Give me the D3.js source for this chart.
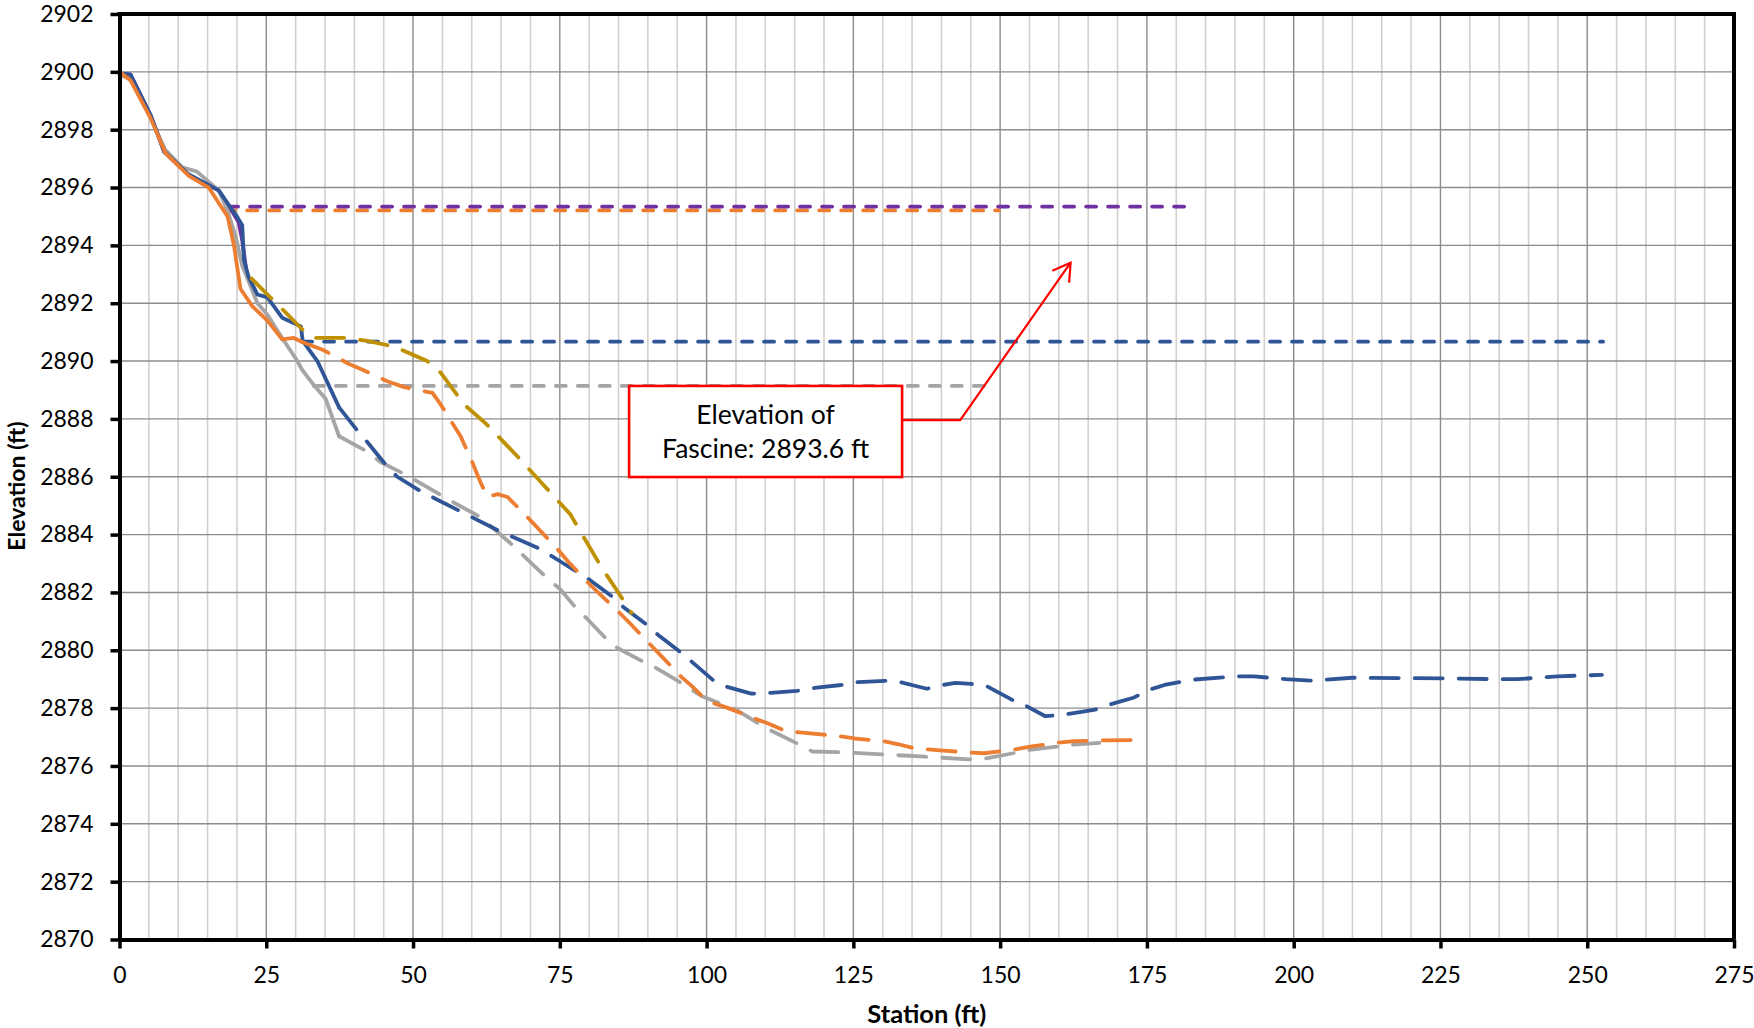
<!DOCTYPE html>
<html><head><meta charset="utf-8">
<script src="https://cdn.jsdelivr.net/npm/d3@7"></script>
<style>html,body{margin:0;padding:0;background:#fff;} svg{display:block;}</style>
</head><body><svg id="chart" width="1754" height="1028"></svg>
<script>
// ---------------- data ----------------
const xTickValues = [0,25,50,75,100,125,150,175,200,225,250,275];
const yTickValues = [2870,2872,2874,2876,2878,2880,2882,2884,2886,2888,2890,2892,2894,2896,2898,2900,2902];
const xTitle = "Station (ft)";
const yTitle = "Elevation (ft)";
const annotationLines = ["Elevation of", "Fascine: 2893.6 ft"];

// existing ground profiles (solid)
const purpleSolid = [[0,2899.95],[1.9,2899.9],[5.3,2898.5],[7.6,2897.23],[11.8,2896.43],[16.9,2895.9],[18.6,2895.37],[20.3,2894.8],[20.9,2894.18],[21.5,2893.26]];
const graySolid = [[0,2899.9],[1.9,2899.75],[5.3,2898.4],[7.8,2897.3],[10.7,2896.7],[13.2,2896.55],[16.9,2895.9],[18.4,2895.2],[19.8,2894.3],[20.9,2893.3],[23.5,2892.0],[25.2,2891.6],[27.7,2890.8],[30.3,2890.0],[31.1,2889.7],[33.1,2889.17],[35.1,2888.7],[37.4,2887.4]];
const blueSolid = [[0,2899.95],[1.9,2899.9],[5.3,2898.5],[7.6,2897.25],[11.8,2896.45],[16.9,2895.9],[18.6,2895.4],[20.0,2895.0],[20.9,2894.7],[21.2,2893.5],[22.0,2892.9],[23.5,2892.3],[25.2,2892.2],[27.7,2891.5],[30.9,2891.2],[31.2,2890.7],[33.7,2890.0],[37.4,2888.4]];
const orangeSolid = [[0,2900],[1.9,2899.7],[5.3,2898.4],[7.8,2897.2],[11.8,2896.4],[15.2,2896.0],[18.4,2895.0],[19.5,2894.0],[20.6,2892.5],[22.6,2891.9],[25.2,2891.4],[27.7,2890.75],[29.7,2890.8],[31.2,2890.65]];

// profiles (long dash)
const grayDashed = [[37.4,2887.4],[41.9,2886.9],[44.5,2886.5],[48.5,2886.1],[57.0,2885.1],[61.5,2884.6],[66.6,2883.7],[72.3,2882.6],[75.1,2882.1],[77.3,2881.57],[79.6,2881.1],[82.6,2880.46],[84.8,2880.08],[88.7,2879.66],[91.3,2879.4],[95.2,2878.93],[99.2,2878.41],[101.8,2878.2],[105.0,2877.95],[108.6,2877.5],[111.2,2877.2],[115.4,2876.78],[118.0,2876.5],[122.6,2876.48],[130.1,2876.4],[137.2,2876.32],[144.7,2876.23],[147.3,2876.25],[152.2,2876.44],[154.8,2876.55],[159.7,2876.67],[162.6,2876.74],[166.9,2876.8]];
const blueDashed = [[37.4,2888.4],[40.5,2887.6],[42.2,2887.2],[45.0,2886.5],[47.3,2886.0],[51.3,2885.5],[58.1,2884.8],[64.9,2884.1],[71.7,2883.5],[75.1,2883.07],[80.05,2882.44],[83.9,2881.86],[85.8,2881.5],[89.7,2880.9],[91.7,2880.54],[95.6,2879.93],[97.5,2879.6],[101.1,2878.97],[103.4,2878.74],[107.6,2878.5],[110.9,2878.53],[115.4,2878.6],[118.4,2878.7],[122.9,2878.8],[125.8,2878.9],[130.4,2878.94],[133.0,2878.9],[137.5,2878.67],[140.2,2878.8],[142.4,2878.87],[145.0,2878.84],[147.7,2878.76],[151.9,2878.3],[154.5,2878.07],[157.7,2877.72],[161.7,2877.8],[166.2,2877.95],[168.8,2878.13],[172.7,2878.36],[175.8,2878.66],[178.0,2878.8],[182.6,2878.98],[190.2,2879.1],[193.2,2879.1],[198.6,2879.0],[203.1,2878.95],[210.0,2879.05],[225.9,2879.03],[235.0,2879.0],[238.1,2879.0],[244.9,2879.1],[252.5,2879.15]];
const orangeDashed = [[31.2,2890.65],[34.5,2890.4],[39.1,2889.9],[41.4,2889.7],[45.6,2889.3],[48.5,2889.1],[53.3,2888.9],[54.7,2888.5],[58.1,2887.4],[60.1,2886.5],[61.5,2885.8],[62.7,2885.3],[64.4,2885.4],[66.1,2885.3],[69.5,2884.6],[74.6,2883.5],[76.4,2883.07],[79.6,2882.38],[81.6,2881.98],[85.2,2881.29],[87.1,2880.9],[90.4,2880.2],[92.3,2879.8],[95.6,2879.1],[97.5,2878.76],[99.8,2878.3],[101.1,2878.18],[103.7,2878.0],[108.3,2877.63],[110.5,2877.47],[113.5,2877.2],[117.7,2877.13],[122.6,2877.03],[125.2,2876.95],[130.1,2876.86],[132.7,2876.75],[135.6,2876.6],[139.8,2876.54],[145.0,2876.46],[147.3,2876.44],[152.5,2876.57],[155.1,2876.67],[159.7,2876.8],[162.6,2876.86],[166.9,2876.88],[173.5,2876.9]];
const goldDashed = [[22.5,2892.85],[25.2,2892.3],[27.7,2891.8],[31.1,2891.1],[33.4,2890.8],[38.2,2890.8],[42.2,2890.7],[45.6,2890.55],[47.9,2890.4],[52.4,2890.0],[54.7,2889.6],[58.7,2888.5],[62.6,2887.8],[67.8,2886.7],[72.3,2885.7],[76.8,2884.7],[79.1,2883.9],[82.0,2882.9],[85.6,2881.8],[87.2,2881.3]];

// water surface lines (short dash)
const purpleWS = [[18.5,2895.34],[182.8,2895.34]];
const orangeWS = [[18.0,2895.21],[149.8,2895.21]];
const blueWS = [[31.1,2890.67],[252.7,2890.67]];
const grayWS = [[33.1,2889.14],[148.8,2889.14]];

// annotation anchors (data coordinates)
const annoBox = {x0:86.8, x1:133.3, yTop:2889.14, yBot:2885.99};
const annoLeader = [[133.3,2887.96],[143.2,2887.96],[162.0,2893.4]];

// ---------------- drawing ----------------
const svg = d3.select("#chart");
const x = d3.scaleLinear().domain([0,275]).range([119.5,1734]);
const y = d3.scaleLinear().domain([2870,2902]).range([939.5,14]);
const FONT = "Lato, 'Open Sans', sans-serif";

const C = {blue:"#2F5597", orange:"#ED7D31", gray:"#A5A5A5", gold:"#BF9000", purple:"#7030A0"};

// grid
const grid = svg.append("g");
const minorX = d3.range(5,275,5).filter(v => v % 25 !== 0);
const majorX = d3.range(25,275,25);
grid.selectAll(".vminor").data(minorX).join("line")
  .attr("x1", d=>x(d)).attr("x2", d=>x(d)).attr("y1", y(2902)).attr("y2", y(2870))
  .attr("stroke","#D0D0D0").attr("stroke-width",1.6);
grid.selectAll(".vmajor").data(majorX).join("line")
  .attr("x1", d=>x(d)).attr("x2", d=>x(d)).attr("y1", y(2902)).attr("y2", y(2870))
  .attr("stroke","#8C8C8C").attr("stroke-width",1.4);
grid.selectAll(".hgrid").data(yTickValues.slice(1,-1)).join("line")
  .attr("x1", x(0)).attr("x2", x(275)).attr("y1", d=>y(d)).attr("y2", d=>y(d))
  .attr("stroke","#8C8C8C").attr("stroke-width",1.4);

const line = d3.line().x(d=>x(d[0])).y(d=>y(d[1]));

function draw(data, color, kind){
  const p = svg.append("path").datum(data).attr("d", line)
    .attr("fill","none").attr("stroke",color).attr("stroke-width",3.8)
    .attr("stroke-linejoin","round");
  if (kind === "long") p.attr("stroke-dasharray","28,16").attr("stroke-linecap","round");
  else if (kind === "short") p.attr("stroke-dasharray","10,12").attr("stroke-linecap","round");
  else p.attr("stroke-linecap","round");
}

// water surfaces
draw(grayWS, C.gray, "short");
draw(blueWS, C.blue, "short");
draw(orangeWS, C.orange, "short");
draw(purpleWS, C.purple, "short");
// profiles
draw(purpleSolid, C.purple, "solid");
draw(graySolid, C.gray, "solid");
draw(grayDashed, C.gray, "long");
draw(blueSolid, C.blue, "solid");
draw(blueDashed, C.blue, "long");
draw(orangeSolid, C.orange, "solid");
draw(orangeDashed, C.orange, "long");
draw(goldDashed, C.gold, "long");

// axes
const axL = svg.append("g").attr("transform",`translate(${x(0)},0)`)
  .call(d3.axisLeft(y).tickValues(yTickValues).tickSize(9).tickSizeOuter(0).tickPadding(17).tickFormat(d3.format("d")));
const axB = svg.append("g").attr("transform",`translate(0,${y(2870)})`)
  .call(d3.axisBottom(x).tickValues(xTickValues).tickSize(9).tickSizeOuter(0).tickFormat(d3.format("d")));
[axL, axB].forEach(a => {
  a.select(".domain").attr("stroke","#000").attr("stroke-width",4);
  a.selectAll(".tick line").attr("stroke","#000").attr("stroke-width",3.5);
  a.selectAll(".tick text").attr("font-family",FONT).attr("font-size",23).attr("fill","#000");
});
axB.selectAll(".tick text").attr("y",43.5).attr("dy",0);
// top & right border
svg.append("line").attr("x1",x(0)-2).attr("x2",x(275)+2).attr("y1",y(2902)).attr("y2",y(2902)).attr("stroke","#000").attr("stroke-width",4);
svg.append("line").attr("x1",x(275)).attr("x2",x(275)).attr("y1",y(2902)).attr("y2",y(2870)).attr("stroke","#000").attr("stroke-width",4);

// titles
svg.append("text").attr("x",(x(0)+x(275))/2).attr("y",1023).attr("text-anchor","middle")
  .attr("font-family",FONT).attr("font-weight","bold").attr("font-size",25.5).text(xTitle);
svg.append("text").attr("transform",`translate(25,486) rotate(-90)`).attr("text-anchor","middle")
  .attr("font-family",FONT).attr("font-weight","bold").attr("font-size",23).text(yTitle);

// annotation
const lp = annoLeader.map(d=>[x(d[0]),y(d[1])]);
svg.append("path").attr("d", d3.line()(lp)).attr("fill","none").attr("stroke","#FF0000").attr("stroke-width",2.2);
const tip = lp[2], prev = lp[1];
const ang = Math.atan2(prev[1]-tip[1], prev[0]-tip[0]);
const aL = 20, spread = 31*Math.PI/180;
const arms = [[tip[0]+aL*Math.cos(ang+spread), tip[1]+aL*Math.sin(ang+spread)], tip, [tip[0]+aL*Math.cos(ang-spread), tip[1]+aL*Math.sin(ang-spread)]];
svg.append("path").attr("d", d3.line()(arms)).attr("fill","none").attr("stroke","#FF0000").attr("stroke-width",2.2);
const bx0 = x(annoBox.x0), bx1 = x(annoBox.x1), by0 = y(annoBox.yTop), by1 = y(annoBox.yBot);
svg.append("rect").attr("x",bx0).attr("y",by0).attr("width",bx1-bx0).attr("height",by1-by0)
  .attr("fill","#fff").attr("stroke","#FF0000").attr("stroke-width",2.6);
svg.append("text").attr("x",(bx0+bx1)/2).attr("y",by0+38).attr("text-anchor","middle")
  .attr("font-family",FONT).attr("font-size",26.5).text(annotationLines[0]);
svg.append("text").attr("x",(bx0+bx1)/2).attr("y",by0+72).attr("text-anchor","middle")
  .attr("font-family",FONT).attr("font-size",26.5).text(annotationLines[1]);
</script></body></html>
